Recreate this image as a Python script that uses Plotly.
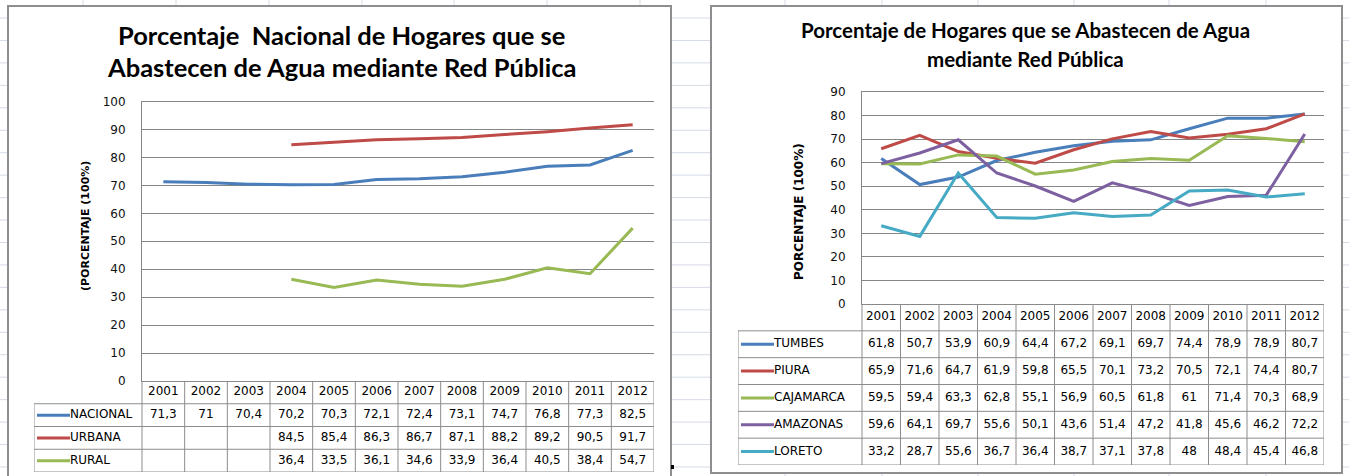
import plotly.graph_objects as go

# ---------------- data ----------------
years = [2001, 2002, 2003, 2004, 2005, 2006, 2007, 2008, 2009, 2010, 2011, 2012]

nat_names = ["NACIONAL", "URBANA", "RURAL"]
nacional = [71.3, 71, 70.4, 70.2, 70.3, 72.1, 72.4, 73.1, 74.7, 76.8, 77.3, 82.5]
urbana = [None, None, None, 84.5, 85.4, 86.3, 86.7, 87.1, 88.2, 89.2, 90.5, 91.7]
rural = [None, None, None, 36.4, 33.5, 36.1, 34.6, 33.9, 36.4, 40.5, 38.4, 54.7]

reg_names = ["TUMBES", "PIURA", "CAJAMARCA", "AMAZONAS", "LORETO"]
tumbes = [61.8, 50.7, 53.9, 60.9, 64.4, 67.2, 69.1, 69.7, 74.4, 78.9, 78.9, 80.7]
piura = [65.9, 71.6, 64.7, 61.9, 59.8, 65.5, 70.1, 73.2, 70.5, 72.1, 74.4, 80.7]
cajamarca = [59.5, 59.4, 63.3, 62.8, 55.1, 56.9, 60.5, 61.8, 61, 71.4, 70.3, 68.9]
amazonas = [59.6, 64.1, 69.7, 55.6, 50.1, 43.6, 51.4, 47.2, 41.8, 45.6, 46.2, 72.2]
loreto = [33.2, 28.7, 55.6, 36.7, 36.4, 38.7, 37.1, 37.8, 48, 48.4, 45.4, 46.8]

title_left = ["Porcentaje  Nacional de Hogares que se", "Abastecen de Agua mediante Red Pública"]
title_right = ["Porcentaje de Hogares que se Abastecen de Agua", "mediante Red Pública"]
ytitle_left = "(PORCENTAJE (100%)"
ytitle_right = "PORCENTAJE (100%)"

# ---------------- styling ----------------
W, H = 1349, 476
BLUE, RED, GREEN, PURPLE, CYAN = "#4A7EBB", "#BE4B48", "#98B954", "#7D60A0", "#46AAC5"
GRID = "#868686"
TBL = "#8C8C8C"
FONT = "DejaVu Sans"
TFONT = "Lato"


def px(x):
    return x / W


def py(y):
    return 1 - y / H


def fmt(v):
    return ("%g" % v).replace(".", ",")


fig = go.Figure()
shapes = []
annotations = []

# spreadsheet background grid (decoration)
SHEET = "#D5DBE6"
for k in range(22):
    yy = 18 + 22.45 * k
    shapes.append(dict(type="line", xref="paper", yref="paper", x0=0, x1=1,
                       y0=py(yy), y1=py(yy), line=dict(color=SHEET, width=1), layer="below"))
for xx in [83, 176, 269, 362, 454, 547, 640, 785, 882, 978, 1074, 1169, 1266]:
    shapes.append(dict(type="line", xref="paper", yref="paper", x0=px(xx), x1=px(xx),
                       y0=0, y1=1, line=dict(color=SHEET, width=1), layer="below"))

# chart boxes
shapes.append(dict(type="rect", xref="paper", yref="paper", x0=px(8), x1=px(671),
                   y0=py(480), y1=py(6), fillcolor="white", line=dict(color="#8E8E8E", width=2),
                   layer="below"))
shapes.append(dict(type="rect", xref="paper", yref="paper", x0=px(711), x1=px(1342),
                   y0=py(473), y1=py(6), fillcolor="white", line=dict(color="#8E8E8E", width=2),
                   layer="below"))
shapes.append(dict(type="rect", xref="paper", yref="paper", x0=px(671), x1=px(674),
                   y0=py(469), y1=py(465), fillcolor="black", line=dict(width=0), layer="above"))


def panel(series, names, colors, cx, cy, tx, ty, plot_px, table_left, table_y, y_top_px,
          ymax, title_lines, title_y, title_cx, title_size, ytitle, ytitle_xy, ytitle_size):
    xl, xr = plot_px
    # chart lines
    for vals, col, nm in zip(series, colors, names):
        fig.add_trace(go.Scatter(x=years, y=vals, mode="lines", name=nm,
                                 line=dict(color=col, width=3), connectgaps=False,
                                 xaxis=cx, yaxis=cy, showlegend=False, hoverinfo="skip"))
    colpx = (xr - xl) / len(years)
    L = years[0] - 0.5 - (xl - table_left) / colpx
    nrows = len(series) + 1
    # header years
    fig.add_trace(go.Scatter(x=years, y=[0] * len(years), mode="text",
                             text=[str(y) for y in years],
                             textfont=dict(family=FONT, size=12, color="#000"),
                             xaxis=tx, yaxis=ty, showlegend=False, hoverinfo="skip"))
    for i, (vals, col, nm) in enumerate(zip(series, colors, names)):
        r = i + 1
        xs = [y for y, v in zip(years, vals) if v is not None]
        ts = [fmt(v) for v in vals if v is not None]
        fig.add_trace(go.Scatter(x=xs, y=[r] * len(xs), mode="text", text=ts,
                                 textfont=dict(family=FONT, size=12, color="#000"),
                                 xaxis=tx, yaxis=ty, showlegend=False, hoverinfo="skip"))
        fig.add_trace(go.Scatter(x=[L + 3 / colpx, L + 36 / colpx], y=[r, r], mode="lines",
                                 line=dict(color=col, width=3),
                                 xaxis=tx, yaxis=ty, showlegend=False, hoverinfo="skip"))
        fig.add_trace(go.Scatter(x=[L + 36 / colpx], y=[r], mode="text", text=[nm],
                                 textposition="middle right",
                                 textfont=dict(family=FONT, size=12, color="#000"),
                                 xaxis=tx, yaxis=ty, showlegend=False, hoverinfo="skip"))
    last = years[-1] + 0.5
    first = years[0] - 0.5
    ln = dict(color=TBL, width=1)
    # table borders
    shapes.append(dict(type="line", xref=tx, yref=ty, x0=first, x1=last, y0=-0.5, y1=-0.5, line=ln))
    for k in range(1, nrows + 1):
        shapes.append(dict(type="line", xref=tx, yref=ty, x0=L, x1=last,
                           y0=k - 0.5, y1=k - 0.5, line=ln))
    shapes.append(dict(type="line", xref=tx, yref=ty, x0=L, x1=L, y0=0.5, y1=nrows - 0.5, line=ln))
    for k in range(len(years) + 1):
        xx = first + k
        shapes.append(dict(type="line", xref=tx, yref=ty, x0=xx, x1=xx,
                           y0=-0.5, y1=nrows - 0.5, line=ln))

    xa = dict(domain=[px(xl), px(xr)], range=[first, last], showgrid=False, zeroline=False,
              showticklabels=False, ticks="", showline=True, mirror=True, linecolor=GRID,
              linewidth=1, fixedrange=True, automargin=False)
    ya = dict(domain=[py(table_y[0]), py(y_top_px)], range=[0, ymax],
              tickvals=list(range(0, ymax + 1, 10)), showgrid=True, gridcolor=GRID, gridwidth=1,
              zeroline=False, showline=True, linecolor=GRID, linewidth=1, ticks="",
              ticklabelstandoff=13, tickfont=dict(family=FONT, size=12, color="#111"),
              fixedrange=True, automargin=False)
    txa = dict(domain=[px(table_left), px(xr)], range=[L, last], visible=False,
               fixedrange=True, automargin=False)
    tya = dict(domain=[py(table_y[1]), py(table_y[0])], range=[nrows - 0.5, -0.5],
               visible=False, fixedrange=True, automargin=False)

    for line, yy in zip(title_lines, title_y):
        annotations.append(dict(text="<b>%s</b>" % line, xref="paper", yref="paper",
                                x=px(title_cx), y=py(yy), xanchor="center", yanchor="middle",
                                showarrow=False, font=dict(family=TFONT, size=title_size, color="#000")))
    annotations.append(dict(text="<b>%s</b>" % ytitle, xref="paper", yref="paper",
                            x=px(ytitle_xy[0]), y=py(ytitle_xy[1]), textangle=-90,
                            xanchor="center", yanchor="middle", showarrow=False,
                            font=dict(family=FONT, size=ytitle_size, color="#000")))
    return xa, ya, txa, tya


xa1, ya1, txa1, tya1 = panel(
    [nacional, urbana, rural], nat_names, [BLUE, RED, GREEN],
    "x", "y", "x3", "y3", (142, 654), 34, (381, 472), 101.5, 100,
    title_left, (35, 67), 341, 25.5, ytitle_left, (85, 226), 11)

xa2, ya2, txa2, tya2 = panel(
    [tumbes, piura, cajamarca, amazonas, loreto], reg_names, [BLUE, RED, GREEN, PURPLE, CYAN],
    "x2", "y2", "x4", "y4", (862, 1324), 738, (304, 465), 92, 90,
    title_right, (30, 59), 1025, 20.5, ytitle_right, (799, 212), 12)

xa1.update(anchor="y"); ya1.update(anchor="x")
xa2.update(anchor="y2"); ya2.update(anchor="x2")
txa1.update(anchor="y3"); tya1.update(anchor="x3")
txa2.update(anchor="y4"); tya2.update(anchor="x4")

fig.update_layout(
    width=W, height=H, margin=dict(l=0, r=0, t=0, b=0, pad=0, autoexpand=False),
    paper_bgcolor="white", plot_bgcolor="rgba(0,0,0,0)",
    xaxis=xa1, yaxis=ya1, xaxis2=xa2, yaxis2=ya2,
    xaxis3=txa1, yaxis3=tya1, xaxis4=txa2, yaxis4=tya2,
    shapes=shapes, annotations=annotations, showlegend=False,
)

post = ("var gd=document.getElementById('{plot_id}');"
        "gd.style.position='fixed';gd.style.top='0';gd.style.left='0';"
        "document.body.style.margin='0';document.body.style.padding='0';"
        "document.body.style.overflow='hidden';document.documentElement.style.overflow='hidden';")

fig.write_html("out.html", config={"displayModeBar": False}, post_script=post)
